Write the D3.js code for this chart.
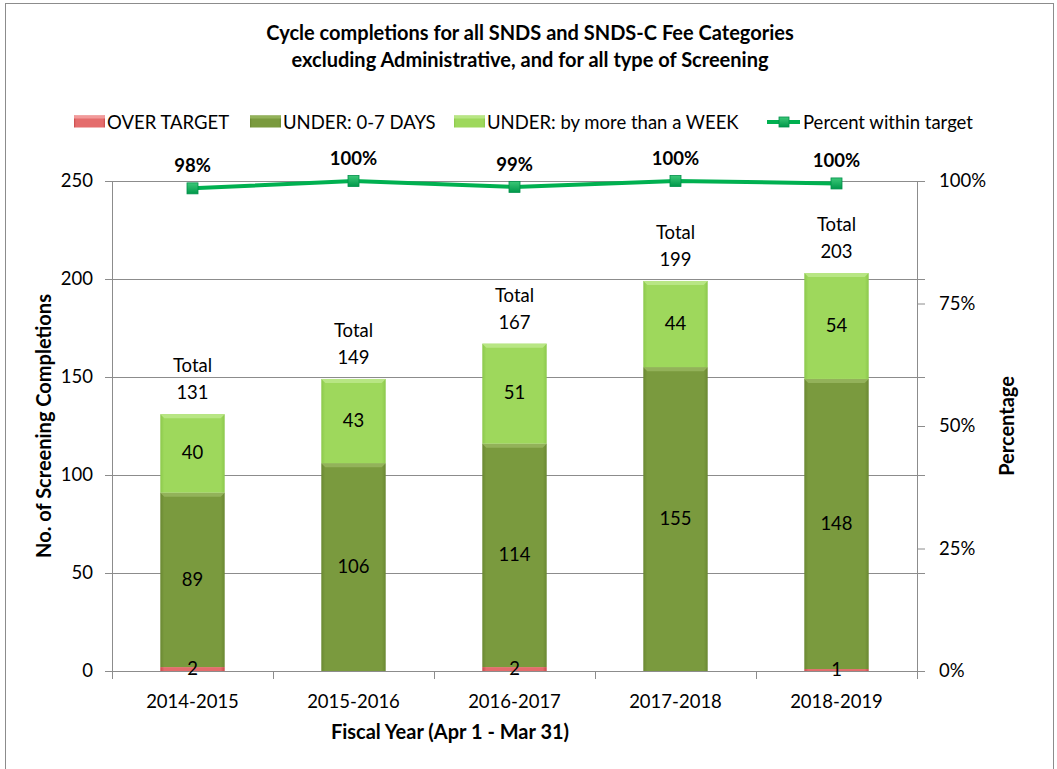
<!DOCTYPE html>
<html><head><meta charset="utf-8">
<script src="https://cdn.jsdelivr.net/npm/d3@7"></script>
<style>
html,body{margin:0;padding:0;background:#fff;}
text{font-family:Lato,"Open Sans",sans-serif;fill:#000;}
</style></head>
<body>
<svg id="chart" width="1057" height="769"></svg>
<script>
const categories = ["2014-2015","2015-2016","2016-2017","2017-2018","2018-2019"];
const overTarget = [2,0,2,0,1];
const under07 = [89,106,114,155,148];
const underWeek = [40,43,51,44,54];
const totals = [131,149,167,199,203];
const percentWithin = [0.985,1.0,0.988,1.0,0.995];
const percentLabels = ["98%","100%","99%","100%","100%"];
const leftTicks = [0,50,100,150,200,250];
const rightTicks = [0,0.25,0.5,0.75,1];
const seriesNames = ["OVER TARGET","UNDER: 0-7 DAYS","UNDER: by more than a WEEK"];
const lineName = "Percent within target";
const titleLines = ["Cycle completions for all SNDS and SNDS-C Fee Categories","excluding Administrative, and for all type of Screening"];

const svg = d3.select("#chart");
const m = {left:112,right:917,top:181,bottom:671};
const colors = ["#E46C6C","#7A9A3E","#9ED85C"];
const colorsDark = ["#C84A4A","#6A8832","#8CC84C"];
const colorsLight = ["#F29A9A","#93B25A","#B8E684"];
const FS = 18.5, FB = 20;

// frame
svg.append("rect").attr("x",5.5).attr("y",3.5).attr("width",1048).attr("height",780)
  .attr("fill","#fff").attr("stroke","#8c8c8c").attr("stroke-width",1);

const defs = svg.append("defs");
colors.forEach((c,i)=>{
  const g = defs.append("linearGradient").attr("id","g"+i).attr("x1","0").attr("x2","1").attr("y1","0").attr("y2","0");
  g.append("stop").attr("offset","0").attr("stop-color",colorsDark[i]);
  g.append("stop").attr("offset","0.06").attr("stop-color",c);
  g.append("stop").attr("offset","0.94").attr("stop-color",c);
  g.append("stop").attr("offset","1").attr("stop-color",colorsDark[i]);
});
const mg = defs.append("linearGradient").attr("id","mk").attr("x1","0").attr("x2","0").attr("y1","0").attr("y2","1");
mg.append("stop").attr("offset","0").attr("stop-color","#3CC878");
mg.append("stop").attr("offset","1").attr("stop-color","#00984A");

const x = d3.scaleBand().domain(categories).range([m.left,m.right]).paddingInner(0.6).paddingOuter(0.3);
const xb = d3.scaleBand().domain(categories).range([m.left,m.right]);
const y = d3.scaleLinear().domain([0,250]).range([m.bottom,m.top]);
const yr = d3.scaleLinear().domain([0,1]).range([m.bottom,m.top]);

// title
svg.append("g").selectAll("text").data(titleLines).join("text")
  .attr("x",530).attr("y",(d,i)=>40+i*27).attr("text-anchor","middle")
  .attr("font-weight","bold").attr("font-size",FB).text(d=>d);

// gridlines
svg.append("g").selectAll("line").data(leftTicks).join("line")
  .attr("x1",m.left-7).attr("x2",m.right+8).attr("y1",d=>Math.round(y(d))+0.5).attr("y2",d=>Math.round(y(d))+0.5)
  .attr("stroke","#8c8c8c").attr("stroke-width",1);

// axes
const axL = svg.append("g").attr("transform",`translate(${m.left},0)`).call(d3.axisLeft(y).tickValues(leftTicks).tickSize(0).tickPadding(19));
axL.select(".domain").attr("stroke","#8c8c8c");
axL.selectAll("text").attr("font-size",FS).attr("font-family","Lato");
const axR = svg.append("g").attr("transform",`translate(${m.right},0)`).call(d3.axisRight(yr).tickValues(rightTicks).tickFormat(d3.format(".0%")).tickSize(8).tickPadding(14));
axR.select(".domain").attr("stroke","#8c8c8c");
axR.selectAll("line").attr("stroke","#8c8c8c");
axR.selectAll("text").attr("font-size",FS).attr("font-family","Lato");

// x axis
svg.append("line").attr("x1",m.left).attr("x2",m.right).attr("y1",m.bottom+0.5).attr("y2",m.bottom+0.5).attr("stroke","#8c8c8c");
const bounds = categories.map(c=>xb(c)).concat([m.right]);
svg.append("g").selectAll("line").data(bounds).join("line")
  .attr("x1",d=>Math.round(d)+0.5).attr("x2",d=>Math.round(d)+0.5).attr("y1",m.bottom).attr("y2",m.bottom+8).attr("stroke","#8c8c8c");
svg.append("g").selectAll("text").data(categories).join("text")
  .attr("x",d=>xb(d)+xb.bandwidth()/2).attr("y",708).attr("text-anchor","middle").attr("font-size",FS).text(d=>d);

// stacked bars
const series = [overTarget,under07,underWeek];
const stackData = categories.map((c,i)=>({cat:c,v:series.map(s=>s[i])}));
stackData.forEach(d=>{
  let base=0;
  d.seg = d.v.map((v,k)=>{const s={k,v,y0:base,y1:base+v,cat:d.cat};base+=v;return s;});
});
const barsG = svg.append("g");
stackData.forEach(d=>{
  d.seg.forEach(s=>{
    if(s.v<=0) return;
    const x0=x(s.cat), w=x.bandwidth();
    const top=y(s.y1), bot=y(s.y0);
    barsG.append("rect").attr("x",x0).attr("y",top).attr("width",w).attr("height",bot-top)
      .attr("fill",`url(#g${s.k})`);
    if(bot-top>8){
      barsG.append("path").attr("d",`M${x0},${top} L${x0+w},${top} L${x0+w-4},${top+4} L${x0+4},${top+4} Z`).attr("fill",colorsLight[s.k]);
    }
  });
});

// segment labels
const labG = svg.append("g");
stackData.forEach(d=>{
  d.seg.forEach(s=>{
    if(s.v<=0) return;
    labG.append("text").attr("x",x(s.cat)+x.bandwidth()/2).attr("y",y((s.y0+s.y1)/2)+1)
      .attr("dominant-baseline","middle").attr("text-anchor","middle").attr("font-size",FS).text(s.v);
  });
});
// totals
categories.forEach((c,i)=>{
  const cx = x(c)+x.bandwidth()/2, top=y(totals[i]);
  labG.append("text").attr("x",cx).attr("y",top-42).attr("text-anchor","middle").attr("font-size",FS).text("Total");
  labG.append("text").attr("x",cx).attr("y",top-15).attr("text-anchor","middle").attr("font-size",FS).text(totals[i]);
});

// line
const lineG = svg.append("g");
const pts = categories.map((c,i)=>[x(c)+x.bandwidth()/2, yr(percentWithin[i])]);
lineG.append("path").attr("d",d3.line()(pts)).attr("fill","none").attr("stroke","#00B050").attr("stroke-width",4);
lineG.selectAll("rect").data(pts).join("rect")
  .attr("x",d=>d[0]-5.5).attr("y",d=>d[1]-5.5).attr("width",11).attr("height",11)
  .attr("fill","url(#mk)").attr("stroke","#00904A").attr("stroke-width",0.8);
lineG.selectAll("text").data(pts).join("text")
  .attr("x",d=>d[0]).attr("y",(d,i)=>d[1]-16).attr("text-anchor","middle").attr("font-weight","bold").attr("font-size",FS)
  .text((d,i)=>percentLabels[i]);

// axis titles
svg.append("text").attr("transform","translate(51,426) rotate(-90)").attr("text-anchor","middle")
  .attr("font-weight","bold").attr("font-size",FB).text("No. of Screening Completions");
svg.append("text").attr("transform","translate(1014,426) rotate(-90)").attr("text-anchor","middle")
  .attr("font-weight","bold").attr("font-size",FB).text("Percentage");
svg.append("text").attr("x",450).attr("y",739).attr("text-anchor","middle")
  .attr("font-weight","bold").attr("font-size",FB).text("Fiscal Year (Apr 1 - Mar 31)");

// legend
const legX = [74,250,454];
const legG = svg.append("g");
seriesNames.forEach((n,i)=>{
  legG.append("rect").attr("x",legX[i]).attr("y",115.5).attr("width",31).attr("height",12).attr("fill",`url(#g${i})`);
  legG.append("rect").attr("x",legX[i]).attr("y",115.5).attr("width",31).attr("height",3).attr("fill",colorsLight[i]);
  legG.append("text").attr("x",legX[i]+33).attr("y",128.5).attr("font-size",FS).text(n);
});
legG.append("line").attr("x1",767).attr("x2",800).attr("y1",122).attr("y2",122).attr("stroke","#00B050").attr("stroke-width",4);
legG.append("rect").attr("x",779).attr("y",117).attr("width",10).attr("height",10).attr("fill","url(#mk)").attr("stroke","#00904A").attr("stroke-width",0.8);
legG.append("text").attr("x",803).attr("y",128.5).attr("font-size",FS).text(lineName);
</script>
</body></html>
